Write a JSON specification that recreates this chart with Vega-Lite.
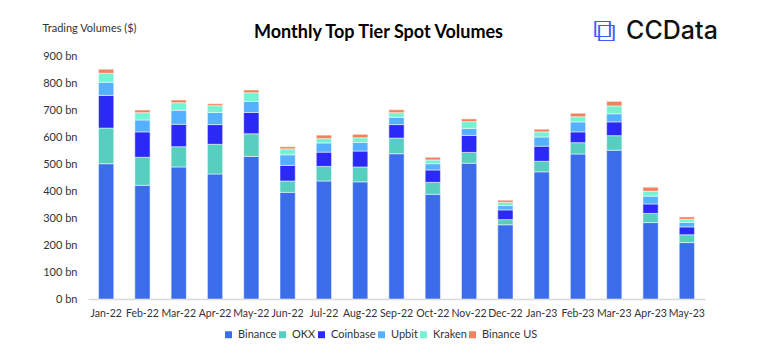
{
  "$schema": "https://vega.github.io/schema/vega-lite/v6.json",
  "width": 617,
  "height": 243,
  "autosize": {"type": "none"},
  "padding": {"left": 88, "top": 56, "right": 63, "bottom": 56},
  "background": "white",
  "config": {
    "font": "Lato",
    "view": {"stroke": null},
    "axis": {"labelFont": "Lato", "labelColor": "#333333", "labelFontSize": 11}
  },
  "title": {
    "text": "Monthly Top Tier Spot Volumes",
    "font": "Lato",
    "fontSize": 18,
    "fontWeight": "bold",
    "color": "#000000",
    "anchor": "middle",
    "dx": -18,
    "dy": 31
  },
  "datasets": {
    "volumes": [
      {"month": "Jan-22", "Binance": 501, "OKX": 132, "Coinbase": 121, "Upbit": 49, "Kraken": 33, "Binance US": 15},
      {"month": "Feb-22", "Binance": 421, "OKX": 104, "Coinbase": 94, "Upbit": 44, "Kraken": 27, "Binance US": 10},
      {"month": "Mar-22", "Binance": 489, "OKX": 75, "Coinbase": 83, "Upbit": 52, "Kraken": 28, "Binance US": 10},
      {"month": "Apr-22", "Binance": 463, "OKX": 110, "Coinbase": 73, "Upbit": 45, "Kraken": 25, "Binance US": 7},
      {"month": "May-22", "Binance": 528, "OKX": 84, "Coinbase": 79, "Upbit": 41, "Kraken": 32, "Binance US": 10},
      {"month": "Jun-22", "Binance": 395, "OKX": 42, "Coinbase": 58, "Upbit": 39, "Kraken": 22, "Binance US": 8},
      {"month": "Jul-22", "Binance": 437, "OKX": 54, "Coinbase": 53, "Upbit": 34, "Kraken": 16, "Binance US": 13},
      {"month": "Aug-22", "Binance": 434, "OKX": 55, "Coinbase": 59, "Upbit": 32, "Kraken": 17, "Binance US": 13},
      {"month": "Sep-22", "Binance": 538, "OKX": 58, "Coinbase": 50, "Upbit": 27, "Kraken": 17, "Binance US": 11},
      {"month": "Oct-22", "Binance": 388, "OKX": 44, "Coinbase": 46, "Upbit": 23, "Kraken": 14, "Binance US": 10},
      {"month": "Nov-22", "Binance": 503, "OKX": 40, "Coinbase": 63, "Upbit": 26, "Kraken": 25, "Binance US": 10},
      {"month": "Dec-22", "Binance": 275, "OKX": 19, "Coinbase": 36, "Upbit": 16, "Kraken": 12, "Binance US": 8},
      {"month": "Jan-23", "Binance": 471, "OKX": 39, "Coinbase": 56, "Upbit": 34, "Kraken": 19, "Binance US": 10},
      {"month": "Feb-23", "Binance": 537, "OKX": 42, "Coinbase": 40, "Upbit": 37, "Kraken": 19, "Binance US": 13},
      {"month": "Mar-23", "Binance": 551, "OKX": 54, "Coinbase": 51, "Upbit": 30, "Kraken": 29, "Binance US": 17},
      {"month": "Apr-23", "Binance": 283, "OKX": 34, "Coinbase": 35, "Upbit": 29, "Kraken": 18, "Binance US": 15},
      {"month": "May-23", "Binance": 209, "OKX": 29, "Coinbase": 29, "Upbit": 17, "Kraken": 11, "Binance US": 9}
    ],
    "logo": [{"name": "CCData", "icon": "⧉"}]
  },
  "layer": [
    {
      "data": {"name": "volumes"},
      "transform": [
        {"fold": ["Binance", "OKX", "Coinbase", "Upbit", "Kraken", "Binance US"], "as": ["exchange", "value"]},
        {"window": [{"op": "row_number", "as": "stack_rank"}], "groupby": ["month"]}
      ],
      "mark": {"type": "bar", "stroke": "#ffffff", "strokeWidth": 1, "strokeOpacity": 0.5},
      "encoding": {
        "x": {
          "field": "month",
          "type": "nominal",
          "sort": null,
          "scale": {"paddingInner": 0.58, "paddingOuter": 0.29},
          "axis": {
            "title": null,
            "labelAngle": 0,
            "ticks": false,
            "labelPadding": 9,
            "domainColor": "#d9d9d9",
            "domainWidth": 1.5,
            "labelFontSize": 10.5
          }
        },
        "y": {
          "field": "value",
          "type": "quantitative",
          "stack": "zero",
          "scale": {"domain": [0, 900], "nice": false},
          "axis": {
            "values": [0, 100, 200, 300, 400, 500, 600, 700, 800, 900],
            "labelExpr": "datum.value + ' bn'",
            "labelOverlap": false,
            "labelFlush": false,
            "grid": false,
            "domain": false,
            "ticks": false,
            "labelPadding": 11,
            "title": "Trading Volumes ($)",
            "titleAngle": 0,
            "titleAlign": "left",
            "titleBaseline": "middle",
            "titleX": -46,
            "titleY": -28,
            "titleFont": "Lato",
            "titleFontSize": 11,
            "titleFontWeight": "normal",
            "titleColor": "#333333"
          }
        },
        "order": {"field": "stack_rank", "type": "quantitative", "sort": "ascending"},
        "color": {
          "field": "exchange",
          "type": "nominal",
          "sort": ["Binance", "OKX", "Coinbase", "Upbit", "Kraken", "Binance US"],
          "scale": {
            "domain": ["Binance", "OKX", "Coinbase", "Upbit", "Kraken", "Binance US"],
            "range": ["#3b6deb", "#56cfc1", "#2b29f5", "#55b0ff", "#74f3d3", "#f2815f"]
          },
          "legend": {
            "title": null,
            "orient": "none",
            "direction": "horizontal",
            "legendX": 135,
            "legendY": 273,
            "symbolType": "square",
            "symbolSize": 49,
            "symbolStrokeWidth": 0,
            "labelFont": "Lato",
            "labelFontSize": 11,
            "labelColor": "#333333",
            "labelOffset": 4,
            "columnPadding": 0
          }
        }
      }
    },
    {
      "data": {"name": "logo"},
      "mark": {"type": "text", "font": "Inter", "fontSize": 25, "fontWeight": 500, "align": "right", "baseline": "middle", "dx": 31, "dy": 2, "color": "#111111"},
      "encoding": {
        "x": {
          "datum": "May-23",
          "type": "nominal",
          "axis": {
            "title": null,
            "labelAngle": 0,
            "ticks": false,
            "labelPadding": 9,
            "domainColor": "#d9d9d9",
            "domainWidth": 1.5,
            "labelFontSize": 10.5
          }
        },
        "y": {
          "datum": 1000,
          "type": "quantitative",
          "axis": {
            "values": [0, 100, 200, 300, 400, 500, 600, 700, 800, 900],
            "labelExpr": "datum.value + ' bn'",
            "labelOverlap": false,
            "labelFlush": false,
            "grid": false,
            "domain": false,
            "ticks": false,
            "labelPadding": 11,
            "title": "Trading Volumes ($)",
            "titleAngle": 0,
            "titleAlign": "left",
            "titleBaseline": "middle",
            "titleX": -46,
            "titleY": -28,
            "titleFont": "Lato",
            "titleFontSize": 11,
            "titleFontWeight": "normal",
            "titleColor": "#333333"
          }
        },
        "text": {"field": "name"}
      }
    },
    {
      "data": {"name": "logo"},
      "mark": {"type": "text", "font": "DejaVu Sans", "fontSize": 32, "align": "center", "baseline": "middle", "dx": -82, "dy": 2, "color": "#3b5bf5"},
      "encoding": {
        "x": {
          "datum": "May-23",
          "type": "nominal",
          "axis": {
            "title": null,
            "labelAngle": 0,
            "ticks": false,
            "labelPadding": 9,
            "domainColor": "#d9d9d9",
            "domainWidth": 1.5,
            "labelFontSize": 10.5
          }
        },
        "y": {
          "datum": 1000,
          "type": "quantitative",
          "axis": {
            "values": [0, 100, 200, 300, 400, 500, 600, 700, 800, 900],
            "labelExpr": "datum.value + ' bn'",
            "labelOverlap": false,
            "labelFlush": false,
            "grid": false,
            "domain": false,
            "ticks": false,
            "labelPadding": 11,
            "title": "Trading Volumes ($)",
            "titleAngle": 0,
            "titleAlign": "left",
            "titleBaseline": "middle",
            "titleX": -46,
            "titleY": -28,
            "titleFont": "Lato",
            "titleFontSize": 11,
            "titleFontWeight": "normal",
            "titleColor": "#333333"
          }
        },
        "text": {"field": "icon"}
      }
    }
  ]
}
